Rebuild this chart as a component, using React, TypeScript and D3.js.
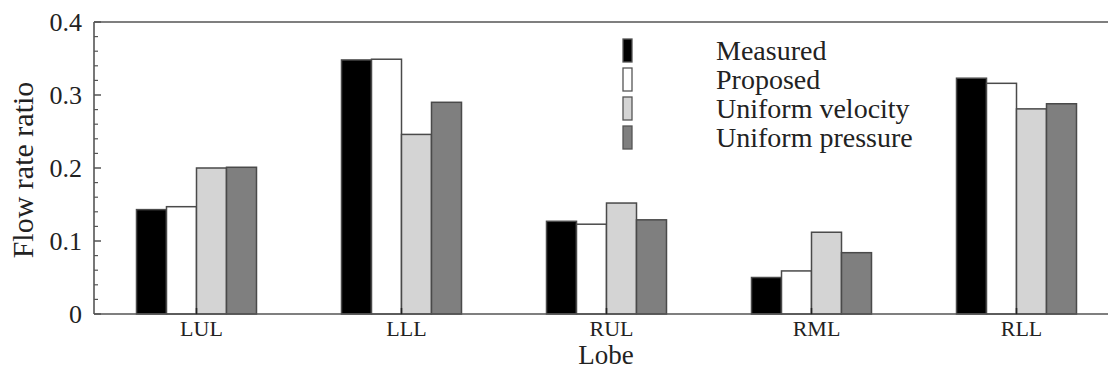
import React from "react";
import * as d3 from "d3";

// Lobes on the x axis
const lobes: string[] = ["LUL", "LLL", "RUL", "RML", "RLL"];

// Series names as shown in the legend
const seriesNames: string[] = ["Measured", "Proposed", "Uniform velocity", "Uniform pressure"];

// Flow rate ratio per lobe for each series
const measured: number[] = [0.143, 0.348, 0.127, 0.050, 0.323];
const proposed: number[] = [0.147, 0.349, 0.123, 0.059, 0.316];
const uniformVelocity: number[] = [0.200, 0.246, 0.152, 0.112, 0.281];
const uniformPressure: number[] = [0.201, 0.290, 0.129, 0.084, 0.288];

// Y axis ticks
const yTicks: number[] = [0, 0.1, 0.2, 0.3, 0.4];
const yTickLabels: string[] = ["0", "0.1", "0.2", "0.3", "0.4"];

const seriesValues = [measured, proposed, uniformVelocity, uniformPressure];
const fills = ["#000000", "#ffffff", "#d4d4d4", "#7f7f7f"];

const W = 1108;
const H = 371;
const FONT = "Liberation Serif, Times New Roman, Times, serif";
const textStyle = { fontFamily: FONT };

export default function App() {
  const left = 94;
  const top = 22;
  const bottom = 314;
  const step = 205;
  const right = left + step * lobes.length;

  const x = d3.scaleBand<string>().domain(lobes).range([left, right]).padding(0);
  const groupW = 120;
  const xs = d3
    .scaleBand<string>()
    .domain(seriesNames)
    .range([0, groupW])
    .padding(0);
  const y = d3.scaleLinear().domain([0, 0.4]).range([bottom, top]);

  const minorTicks = d3
    .range(0, 0.4001, 0.02)
    .filter((v) => Math.abs(v * 10 - Math.round(v * 10)) > 1e-6);

  const axisColor = "#555";

  return (
    <svg
      width={W}
      height={H}
      style={{ position: "absolute", left: 0, top: 0, background: "#fff" }}
    >
      {/* bars */}
      {lobes.map((lobe, i) => {
        const gx = (x(lobe) as number) + x.bandwidth() / 2 - groupW / 2;
        return (
          <g key={lobe}>
            {seriesNames.map((s, j) => {
              const v = seriesValues[j][i];
              return (
                <rect
                  key={s}
                  x={gx + (xs(s) as number)}
                  y={y(v)}
                  width={xs.bandwidth()}
                  height={y(0) - y(v)}
                  fill={fills[j]}
                  stroke="#4a4a4a"
                  strokeWidth={1.5}
                />
              );
            })}
          </g>
        );
      })}

      {/* frame */}
      <line x1={left} x2={right} y1={top} y2={top} stroke={axisColor} strokeWidth={1.6} />
      <line x1={left} x2={right} y1={bottom} y2={bottom} stroke={axisColor} strokeWidth={1.6} />
      <line x1={left} x2={left} y1={top} y2={bottom} stroke={axisColor} strokeWidth={1.6} />

      {/* y ticks (inward) */}
      {yTicks.map((t) => (
        <line key={"M" + t} x1={left} x2={left + 7} y1={y(t)} y2={y(t)} stroke={axisColor} strokeWidth={1.5} />
      ))}
      {minorTicks.map((t) => (
        <line key={"m" + t} x1={left} x2={left + 4} y1={y(t)} y2={y(t)} stroke={axisColor} strokeWidth={1.2} />
      ))}
      {yTicks.map((t, i) => (
        <text
          key={"l" + t}
          x={left - 12}
          y={y(t)}
          dy="0.34em"
          textAnchor="end"
          fontSize={26}
          fill="#222"
          style={textStyle}
        >
          {yTickLabels[i]}
        </text>
      ))}

      {/* x ticks and labels */}
      {lobes.map((lobe) => {
        const cx = (x(lobe) as number) + x.bandwidth() / 2;
        return (
          <g key={"x" + lobe}>
            <line x1={cx} x2={cx} y1={bottom} y2={bottom - 6} stroke="#222" strokeWidth={1.5} />
            <text x={cx + 5} y={336} textAnchor="middle" fontSize={22} fill="#222" style={textStyle}>
              {lobe}
            </text>
          </g>
        );
      })}

      {/* axis titles */}
      <text x={606} y={364} textAnchor="middle" fontSize={27} fill="#222" style={textStyle}>
        Lobe
      </text>
      <text
        transform={`translate(33, 170) rotate(-90)`}
        textAnchor="middle"
        fontSize={30}
        fill="#222"
        style={textStyle}
      >
        Flow rate ratio
      </text>

      {/* legend */}
      {seriesNames.map((s, j) => (
        <g key={"lg" + s}>
          <rect
            x={623}
            y={39 + j * 29}
            width={9}
            height={23}
            fill={fills[j]}
            stroke="#555"
            strokeWidth={1.3}
          />
          <text x={716} y={60 + j * 29} fontSize={28} fill="#222" style={textStyle}>
            {s}
          </text>
        </g>
      ))}
    </svg>
  );
}
